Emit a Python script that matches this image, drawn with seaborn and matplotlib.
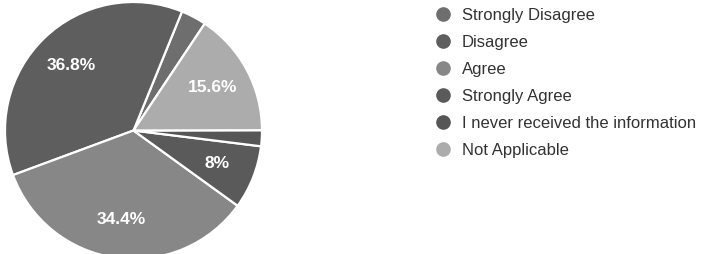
import matplotlib
matplotlib.use('Agg')
import matplotlib.pyplot as plt
from matplotlib.lines import Line2D
import seaborn as sns

# Survey answers (legend order) and their share of responses in percent
categories = ['Strongly Disagree', 'Disagree', 'Agree', 'Strongly Agree',
              'I never received the information', 'Not Applicable']
shares = [3.2, 36.8, 34.4, 8.0, 2.0, 15.6]
# greyscale scan of the original palette
colors = ['#6e6e6e', '#5e5e5e', '#878787', '#5a5a5a', '#565656', '#acacac']

sns.set_theme(style='white')
plt.rcParams['font.family'] = ['Liberation Sans', 'DejaVu Sans']

W, H = 704, 254
fig = plt.figure(figsize=(W / 100, H / 100), dpi=100)

# pie placed by pixel box, slightly clipped at the bottom like the source
cx, cy, r = 133.5, 130.5, 128.5
ax = fig.add_axes([(cx - r) / W, (H - cy - r) / H, 2 * r / W, 2 * r / H])


def pct_label(v):
    if v < 5:
        return ''
    return f'{v:.1f}'.rstrip('0').rstrip('.') + '%'


wedges, texts, autotexts = ax.pie(
    shares, colors=colors, startangle=56.3, counterclock=True,
    autopct=pct_label, pctdistance=0.7,
    wedgeprops=dict(edgecolor='white', linewidth=1.6),
    textprops=dict(color='white', fontsize=12.5, fontweight='bold'))
ax.set_xlim(-1, 1)
ax.set_ylim(-1, 1)
ax.set_aspect('equal')
ax.axis('off')

handles = [Line2D([0], [0], marker='o', linestyle='', markersize=9.5,
                  markerfacecolor=c, markeredgecolor=c) for c in colors]
fig.legend(handles, categories, loc='upper left',
           bbox_to_anchor=(435 / W, 1 - 8 / H), frameon=False,
           fontsize=12, labelcolor='#333333', handletextpad=0.6,
           handlelength=1.0, labelspacing=0.72, borderaxespad=0,
           borderpad=0)

fig.savefig('out.png', dpi=100, facecolor='white')
